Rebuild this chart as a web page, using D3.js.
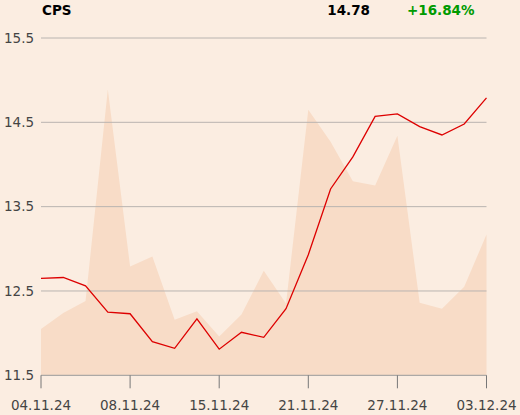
<!DOCTYPE html>
<html>
<head>
<meta charset="utf-8">
<script src="https://cdn.jsdelivr.net/npm/d3@7"></script>
<style>
  body { margin: 0; background: #fbede1; }
  svg { display: block; font-family: "DejaVu Sans", sans-serif; }
</style>
</head>
<body>
<div id="chart"></div>
<script>
// dati
const dates = ["04.11.24","05.11.24","06.11.24","07.11.24","08.11.24","11.11.24","12.11.24","13.11.24","15.11.24","18.11.24","19.11.24","20.11.24","21.11.24","22.11.24","25.11.24","26.11.24","27.11.24","28.11.24","29.11.24","02.12.24","03.12.24"];
const price = [12.65,12.66,12.56,12.25,12.23,11.90,11.82,12.17,11.81,12.01,11.95,12.29,12.93,13.71,14.09,14.57,14.60,14.45,14.35,14.48,14.79];
const volume = [12.05,12.24,12.38,14.89,12.79,12.91,12.16,12.26,11.96,12.22,12.74,12.35,14.65,14.27,13.80,13.75,14.34,12.36,12.29,12.55,13.17];
const yTicks = [11.5,12.5,13.5,14.5,15.5];
const xTickIdx = [0,4,8,12,16,20];
const xTickLabels = ["04.11.24","08.11.24","15.11.24","21.11.24","27.11.24","03.12.24"];
const header = { name: "CPS", last: "14.78", change: "+16.84%" };

const width = 520, height = 415;
const svg = d3.select("#chart").append("svg")
  .attr("width", width).attr("height", height);

svg.append("rect").attr("width", width).attr("height", height).attr("fill", "#fbede1");

const x = d3.scaleLinear().domain([0, dates.length - 1]).range([41, 486.5]);
const y = d3.scaleLinear().domain([11.5, 15.5]).range([375.3, 38]);

// area di sfondo
svg.append("path")
  .datum(volume)
  .attr("fill", "#f8dcc7")
  .attr("d", d3.area().x((d, i) => x(i)).y0(y(11.5)).y1(d => y(d)));

// griglia orizzontale
svg.append("g")
  .selectAll("line")
  .data(yTicks.slice(1))
  .join("line")
  .attr("x1", 41).attr("x2", 486.5)
  .attr("y1", d => y(d)).attr("y2", d => y(d))
  .attr("stroke", "#b9b4b0").attr("stroke-width", 1);

// etichette asse y
svg.append("g")
  .selectAll("text")
  .data(yTicks)
  .join("text")
  .attr("x", 4)
  .attr("y", d => y(d))
  .attr("dy", "0.35em")
  .attr("font-size", 13.5)
  .attr("fill", "#444")
  .text(d => d.toFixed(1));

// asse x
const xAxis = svg.append("g").attr("transform", `translate(0,${y(11.5)})`);
xAxis.append("line").attr("x1", 41).attr("x2", 486.5)
  .attr("stroke", "#999").attr("stroke-width", 1);
xAxis.selectAll(".tick")
  .data(xTickIdx)
  .join("line")
  .attr("x1", d => x(d)).attr("x2", d => x(d))
  .attr("y1", 0).attr("y2", 13)
  .attr("stroke", "#777");
xAxis.selectAll("text")
  .data(xTickIdx)
  .join("text")
  .attr("x", d => x(d))
  .attr("y", 35)
  .attr("text-anchor", "middle")
  .attr("font-size", 13.5)
  .attr("fill", "#444")
  .text((d, i) => xTickLabels[i]);

// linea del prezzo
svg.append("path")
  .datum(price)
  .attr("fill", "none")
  .attr("stroke", "#dd0000")
  .attr("stroke-width", 1.3)
  .attr("d", d3.line().x((d, i) => x(i)).y(d => y(d)));

// intestazione
svg.append("text").attr("x", 42).attr("y", 15)
  .attr("font-size", 13.5).attr("font-weight", "bold").attr("fill", "#000").text(header.name);
svg.append("text").attr("x", 370).attr("y", 15).attr("text-anchor", "end")
  .attr("font-size", 13.5).attr("font-weight", "bold").attr("fill", "#000").text(header.last);
svg.append("text").attr("x", 407).attr("y", 15)
  .attr("font-size", 13.5).attr("font-weight", "bold").attr("fill", "#009a00").text(header.change);
</script>
</body>
</html>
